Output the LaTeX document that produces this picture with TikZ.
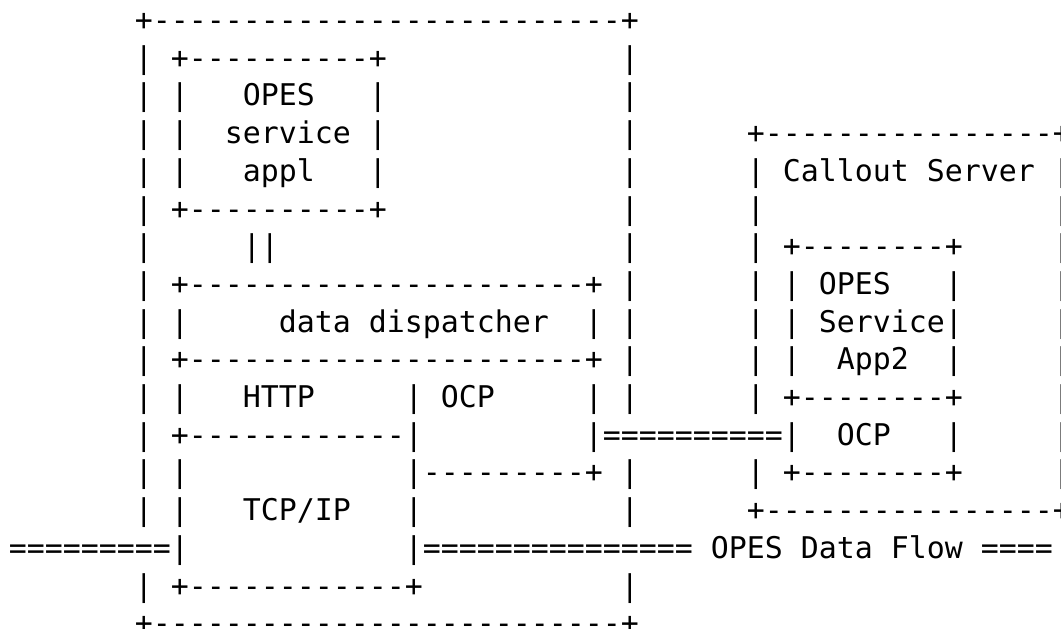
\documentclass[tikz,border=0pt]{standalone}
\usepackage{fontspec}
\setmonofont{DejaVu Sans Mono}
\begin{document}
\begin{tikzpicture}[x=1pt,y=1pt,
  asciirow/.style={anchor=base west, inner sep=0pt, outer sep=0pt,
    font=\ttfamily\fontsize{29.9}{37.7}\selectfont}]
\useasboundingbox (0,0) rectangle (1061,-629);
\def\lx{8.8}
\def\ly#1{{-30.5-37.7*#1}}
\node[asciirow] (r0)  at (\lx,\ly{0})  {~~~~~~~+--------------------------+};
\node[asciirow] (r1)  at (\lx,\ly{1})  {~~~~~~~|~+----------+~~~~~~~~~~~~~|};
\node[asciirow] (r2)  at (\lx,\ly{2})  {~~~~~~~|~|~~~OPES~~~|~~~~~~~~~~~~~|};
\node[asciirow] (r3)  at (\lx,\ly{3})  {~~~~~~~|~|~~service~|~~~~~~~~~~~~~|~~~~~~+----------------+};
\node[asciirow] (r4)  at (\lx,\ly{4})  {~~~~~~~|~|~~~appl~~~|~~~~~~~~~~~~~|~~~~~~|~Callout~Server~|};
\node[asciirow] (r5)  at (\lx,\ly{5})  {~~~~~~~|~+----------+~~~~~~~~~~~~~|~~~~~~|~~~~~~~~~~~~~~~~|};
\node[asciirow] (r6)  at (\lx,\ly{6})  {~~~~~~~|~~~~~||~~~~~~~~~~~~~~~~~~~|~~~~~~|~+--------+~~~~~|};
\node[asciirow] (r7)  at (\lx,\ly{7})  {~~~~~~~|~+----------------------+~|~~~~~~|~|~OPES~~~|~~~~~|};
\node[asciirow] (r8)  at (\lx,\ly{8})  {~~~~~~~|~|~~~~~data~dispatcher~~|~|~~~~~~|~|~Service|~~~~~|};
\node[asciirow] (r9)  at (\lx,\ly{9})  {~~~~~~~|~+----------------------+~|~~~~~~|~|~~App2~~|~~~~~|};
\node[asciirow] (r10) at (\lx,\ly{10}) {~~~~~~~|~|~~~HTTP~~~~~|~OCP~~~~~|~|~~~~~~|~+--------+~~~~~|};
\node[asciirow] (r11) at (\lx,\ly{11}) {~~~~~~~|~+------------|~~~~~~~~~|==========|~~OCP~~~|~~~~~|};
\node[asciirow] (r12) at (\lx,\ly{12}) {~~~~~~~|~|~~~~~~~~~~~~|---------+~|~~~~~~|~+--------+~~~~~|};
\node[asciirow] (r13) at (\lx,\ly{13}) {~~~~~~~|~|~~~TCP/IP~~~|~~~~~~~~~~~|~~~~~~+----------------+};
\node[asciirow] (r14) at (\lx,\ly{14}) {=========|~~~~~~~~~~~~|===============~OPES~Data~Flow~====};
\node[asciirow] (r15) at (\lx,\ly{15}) {~~~~~~~|~+------------+~~~~~~~~~~~|};
\node[asciirow] (r16) at (\lx,\ly{16}) {~~~~~~~+--------------------------+};
\end{tikzpicture}
\end{document}
